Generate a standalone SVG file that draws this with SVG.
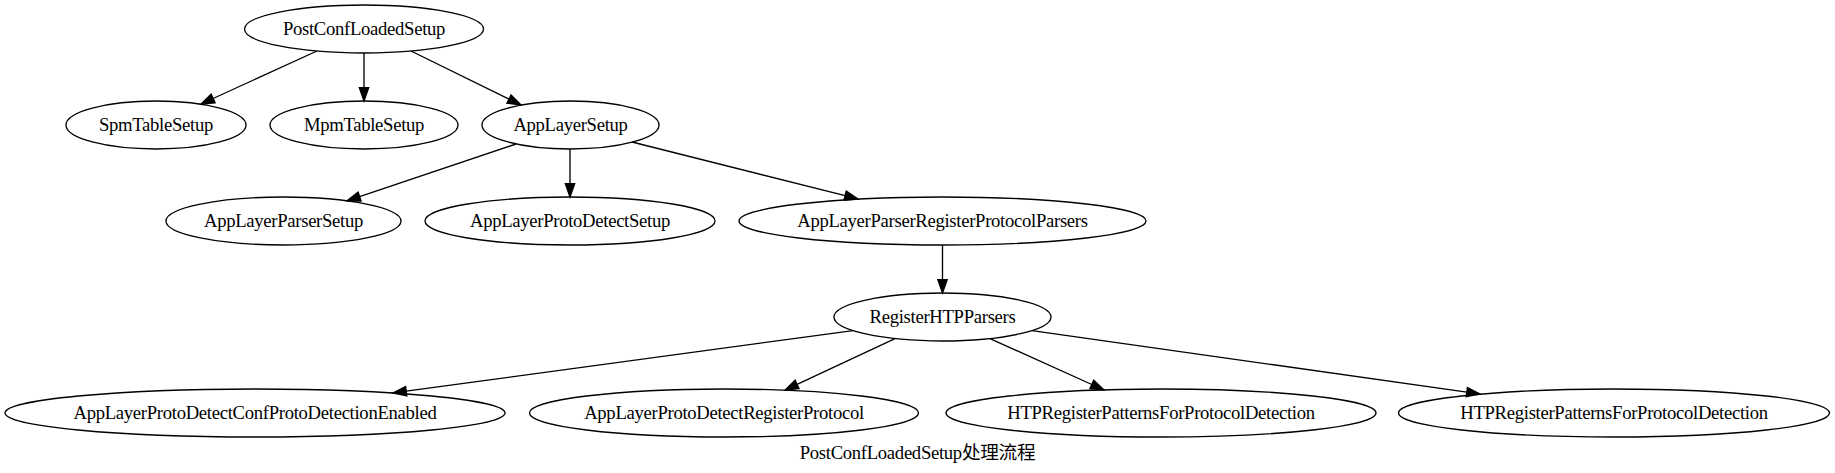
<svg xmlns="http://www.w3.org/2000/svg" width="1835" height="473" viewBox="0 0 1835 473">
<style>
.n ellipse{fill:none;stroke:#000;stroke-width:1.33}
.n text, .cap{font-family:"Liberation Serif","Noto Sans CJK SC",serif;font-size:18.67px;text-anchor:middle;fill:#000;letter-spacing:-0.3px}
.e path{fill:none;stroke:#000;stroke-width:1.33;marker-end:url(#ah)}
</style>
<defs>
<marker id="ah" markerUnits="userSpaceOnUse" markerWidth="16" markerHeight="12" refX="0" refY="6" orient="auto" viewBox="0 0 16 12" overflow="visible">
<path d="M0,1.33 L13.33,6 L0,10.67 z" fill="#000" stroke="#000" stroke-width="1.33"/>
</marker>
</defs>
<rect width="1835" height="473" fill="#fff"/>
<g id="edges" class="e">
<path d="M317,51 L213.1,98.5"/>
<path d="M364,53 L364,87.7"/>
<path d="M411,51 L509,99.1"/>
<path d="M516,144 L359.6,196.6"/>
<path d="M570,149 L570,183.7"/>
<path d="M632,142 L845.1,195.7"/>
<path d="M942.5,245 L942.5,279.7"/>
<path d="M853,330.6 L406.2,391.2"/>
<path d="M895,338.6 L797.1,384.4"/>
<path d="M990,338.6 L1091.8,384.5"/>
<path d="M1032,330.6 L1466.8,392.1"/>
</g>
<g id="PostConfLoadedSetup" class="n"><ellipse cx="364" cy="29" rx="119.5" ry="24"/><text x="364" y="35">PostConfLoadedSetup</text></g>
<g id="SpmTableSetup" class="n"><ellipse cx="156" cy="125" rx="90" ry="24"/><text x="156" y="131">SpmTableSetup</text></g>
<g id="MpmTableSetup" class="n"><ellipse cx="364" cy="125" rx="94" ry="24"/><text x="364" y="131">MpmTableSetup</text></g>
<g id="AppLayerSetup" class="n"><ellipse cx="570.5" cy="125" rx="88.5" ry="24"/><text x="570.5" y="131">AppLayerSetup</text></g>
<g id="AppLayerParserSetup" class="n"><ellipse cx="283.5" cy="221" rx="117.5" ry="24"/><text x="283.5" y="227">AppLayerParserSetup</text></g>
<g id="AppLayerProtoDetectSetup" class="n"><ellipse cx="570" cy="221" rx="145" ry="24"/><text x="570" y="227">AppLayerProtoDetectSetup</text></g>
<g id="AppLayerParserRegisterProtocolParsers" class="n"><ellipse cx="942.5" cy="221" rx="203.5" ry="24"/><text x="942.5" y="227">AppLayerParserRegisterProtocolParsers</text></g>
<g id="RegisterHTPParsers" class="n"><ellipse cx="942.5" cy="317" rx="108.5" ry="24"/><text x="942.5" y="323">RegisterHTPParsers</text></g>
<g id="AppLayerProtoDetectConfProtoDetectionEnabled" class="n"><ellipse cx="255" cy="413" rx="250" ry="24"/><text x="255" y="419">AppLayerProtoDetectConfProtoDetectionEnabled</text></g>
<g id="AppLayerProtoDetectRegisterProtocol" class="n"><ellipse cx="724" cy="413" rx="194.5" ry="24"/><text x="724" y="419">AppLayerProtoDetectRegisterProtocol</text></g>
<g id="HTPRegisterPatternsForProtocolDetection1" class="n"><ellipse cx="1161" cy="413" rx="215" ry="24"/><text x="1161" y="419">HTPRegisterPatternsForProtocolDetection</text></g>
<g id="HTPRegisterPatternsForProtocolDetection2" class="n"><ellipse cx="1614" cy="413" rx="215.5" ry="24"/><text x="1614" y="419">HTPRegisterPatternsForProtocolDetection</text></g>
<text class="cap" x="917.5" y="459">PostConfLoadedSetup处理流程</text>
</svg>
